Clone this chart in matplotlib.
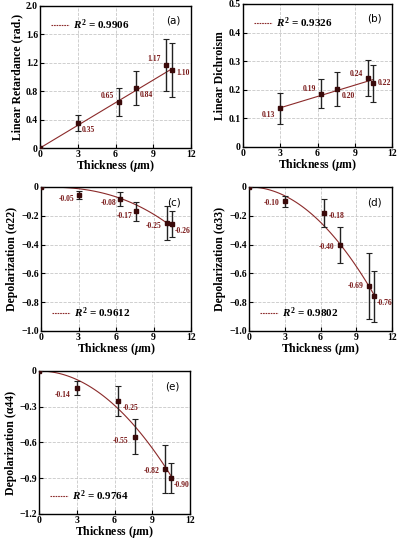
import numpy as np
import matplotlib
matplotlib.use('Agg')
import matplotlib.pyplot as plt
from matplotlib.ticker import FuncFormatter

plt.rcParams['font.family'] = ['Liberation Serif', 'DejaVu Serif']
plt.rcParams['font.weight'] = 'bold'
plt.rcParams['axes.labelweight'] = 'bold'
plt.rcParams['mathtext.fontset'] = 'custom'
plt.rcParams['mathtext.it'] = 'Liberation Serif:italic:bold'
plt.rcParams['mathtext.rm'] = 'Liberation Serif:bold'
plt.rcParams['mathtext.bf'] = 'Liberation Serif:bold'

# thickness (um)
thick = [0, 3.0, 6.3, 7.6, 10.05, 10.5]

ret_vals = [0, 0.35, 0.65, 0.84, 1.17, 1.10]
ret_err = [0, 0.11, 0.20, 0.24, 0.37, 0.38]
ret_labels = ['', '0.35', '0.65', '0.84', '1.17', '1.10']

dic_vals = [0.135, 0.187, 0.203, 0.242, 0.222]
dic_err = [0.055, 0.052, 0.060, 0.062, 0.065]
dic_labels = ['0.13', '0.19', '0.20', '0.24', '0.22']

a22_vals = [0, -0.055, -0.085, -0.17, -0.25, -0.26]
a22_err = [0, 0.025, 0.05, 0.065, 0.115, 0.09]
a22_labels = ['', '-0.05', '-0.08', '-0.17', '-0.25', '-0.26']

a33_vals = [0, -0.10, -0.18, -0.40, -0.69, -0.76]
a33_err = [0, 0.04, 0.10, 0.125, 0.23, 0.18]
a33_labels = ['', '-0.10', '-0.18', '-0.40', '-0.69', '-0.76']

a44_vals = [0, -0.14, -0.25, -0.55, -0.82, -0.90]
a44_err = [0, 0.06, 0.125, 0.15, 0.20, 0.125]
a44_labels = ['', '-0.14', '-0.25', '-0.55', '-0.82', '-0.90']

# fit parameters: linear (slope, intercept, x range) and power (a, p)
fit_a = (0.1064, 0.0, 0, 10.5)
fit_b = (0.0132, 0.0974, 3.0, 10.5)
fit_c = (-0.000778, 2.5)
fit_d = (-0.0068, 2.0)
fit_e = (-0.0080, 2.0)

r2 = ['0.9906', '0.9326', '0.9612', '0.9802', '0.9764']

# label offsets in points (dx, dy) for each point
off_a = [None, (3, -5), (-13, 4), (3, -5), (-14, 4), (3, -2)]
off_b = [(-13, -5), (-13, 3), (3, -5), (-13, 3), (3, 0)]
off_c = [None, (-14, -3), (-14, -3), (-14, -3), (-15, -2), (2, -5)]
off_d = [None, (-15, -1), (3, -2), (-15, -2), (-15, 0), (2, -5)]
off_e = [None, (-16, -5), (3, -5), (-16, -3), (-16, -2), (2, -5)]

line_col = '#8b2a2a'
txt_col = '#7a1a1a'
mk_col = '#3a0a0a'


def fmt(v, pos):
    if abs(v) < 1e-9:
        return '0'
    return ('%.1f' % v).replace('-', '\u2212')


def panel(rect, xs, ys, es, labels, offs, xfit, yfit, ylim, yticks, ylabel,
          letter, r2txt, legloc):
    ax = fig.add_axes(rect)
    ax.plot(xfit, yfit, color=line_col, lw=0.8, label=r'$R^2$ = ' + r2txt)
    ax.errorbar(xs, ys, yerr=es, fmt='s', ms=3, color=mk_col, ecolor='#222222',
                elinewidth=1, capsize=2, capthick=0.8, zorder=3)
    for x, y, lab, o in zip(xs, ys, labels, offs):
        if o is None or lab == '':
            continue
        ax.annotate(lab, (x, y), xytext=o, textcoords='offset points',
                    fontsize=5.5, color=txt_col, fontweight='bold',
                    va='center', ha='left')
    ax.set_xlim(0, 12)
    ax.set_ylim(*ylim)
    ax.set_xticks([0, 3, 6, 9, 12])
    ax.set_yticks(yticks)
    ax.yaxis.set_major_formatter(FuncFormatter(fmt))
    ax.grid(True, ls='--', color='#c8c8c8', lw=0.6)
    ax.set_axisbelow(True)
    ax.tick_params(direction='in', labelsize=7, length=3, pad=1.5)
    for t in ax.get_xticklabels() + ax.get_yticklabels():
        t.set_fontweight('bold')
    for s in ax.spines.values():
        s.set_linewidth(1.0)
    ax.set_xlabel(r'Thickness ($\mu$m)', fontsize=8.5, fontweight='bold', va='center')
    ax.xaxis.set_label_coords(0.5, -0.126)
    ax.set_ylabel(ylabel, fontsize=8.5, fontweight='bold', labelpad=2)
    ax.text(0.93, 0.93, letter, transform=ax.transAxes, ha='right', va='top',
            fontsize=7.5, fontweight='normal', family='DejaVu Sans')
    leg = ax.legend(loc=legloc, frameon=False, fontsize=8, handlelength=1.6,
                    handletextpad=0.4, borderaxespad=0.6)
    leg.get_lines()[0].set_linestyle((0, (1.5, 0.8)))
    return ax


fig = plt.figure(figsize=(4, 5.39), dpi=100)

xl = np.linspace(fit_a[2], fit_a[3], 50)
panel([0.1, 0.7254, 0.3775, 0.2635], thick, ret_vals, ret_err, ret_labels, off_a,
      xl, fit_a[0] * xl + fit_a[1], (0, 2.0), [0, 0.4, 0.8, 1.2, 1.6, 2.0],
      'Linear Retardance (rad.)', '(a)', r2[0], 'upper left')

xl = np.linspace(fit_b[2], fit_b[3], 50)
panel([0.6075, 0.7273, 0.3725, 0.2653], thick[1:], dic_vals, dic_err, dic_labels, off_b,
      xl, fit_b[0] * xl + fit_b[1], (0, 0.5), [0, 0.1, 0.2, 0.3, 0.4, 0.5],
      'Linear Dichroism', '(b)', r2[1], 'upper left')

xc = np.linspace(0, 10.5, 100)
panel([0.1025, 0.3859, 0.375, 0.2672], thick, a22_vals, a22_err, a22_labels, off_c,
      xc, fit_c[0] * xc ** fit_c[1], (-1.0, 0), [-1.0, -0.8, -0.6, -0.4, -0.2, 0],
      'Depolarization (\u03b122)', '(c)', r2[2], 'lower left')

panel([0.6225, 0.3859, 0.3575, 0.2672], thick, a33_vals, a33_err, a33_labels, off_d,
      xc, fit_d[0] * xc ** fit_d[1], (-1.0, 0), [-1.0, -0.8, -0.6, -0.4, -0.2, 0],
      'Depolarization (\u03b133)', '(d)', r2[3], 'lower left')

panel([0.0975, 0.0464, 0.3775, 0.2653], thick, a44_vals, a44_err, a44_labels, off_e,
      xc, fit_e[0] * xc ** fit_e[1], (-1.2, 0), [-1.2, -0.9, -0.6, -0.3, 0],
      'Depolarization (\u03b144)', '(e)', r2[4], 'lower left')

fig.savefig('out.png', dpi=100)
